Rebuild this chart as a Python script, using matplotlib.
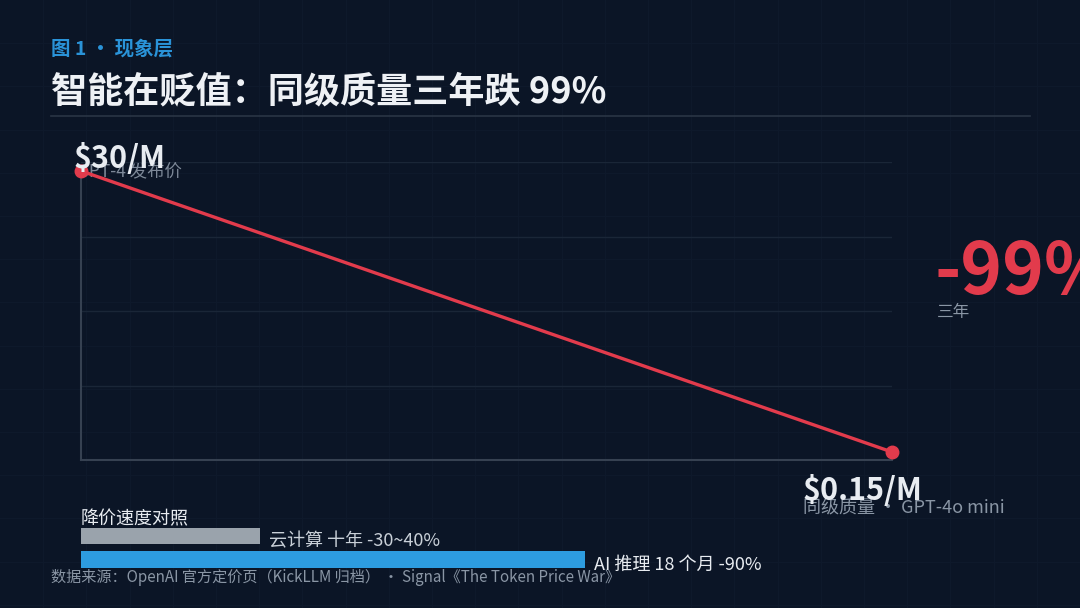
import matplotlib
matplotlib.use('Agg')
import matplotlib.pyplot as plt
import numpy as np

plt.rcParams['font.family'] = ['Noto Sans CJK SC', 'DejaVu Sans']

# data
point_x = [0, 1]
price = [30, 0.15]
price_labels = ['$30/M', '$0.15/M']
point_notes = ['GPT-4 发布价', '同级质量 · GPT-4o mini']
drop_text = '-99%'
drop_note = '三年'

bar_names = ['云计算 十年 -30~40%', 'AI 推理 18 个月 -90%']
bar_values = [32, 90]

BG = '#0b1526'
RED = '#e23b4c'
BLUE = '#2d9ce0'
GRAY_BAR = '#9aa3ac'
WHITE = '#e8ecf1'
MUTED = '#8a96a5'

W, H = 1080, 608
fig = plt.figure(figsize=(W / 100, H / 100), dpi=100, facecolor=BG)


def fx(x):
    return x / W


def fy(y):
    return 1 - y / H


# faint background grid
bg = fig.add_axes([0, 0, 1, 1], zorder=-5)
bg.set_facecolor(BG)
bg.set_xlim(0, W)
bg.set_ylim(H, 0)
step = W / 25
for gx in np.arange(step, W, step):
    bg.axvline(gx, color='#0e192b', lw=1)
for gy in np.arange(step, H, step):
    bg.axhline(gy, color='#0e192b', lw=1)
bg.axis('off')

# header
fig.text(fx(51), fy(49), '图 1 · 现象层', color='#2a93d8', fontsize=14,
         fontweight='bold', va='center', ha='left')
fig.text(fx(51), fy(92), '智能在贬值：同级质量三年跌 99%', color='#eef1f5', fontsize=26,
         fontweight='bold', va='center', ha='left')
bg.plot([51, 1030], [116, 116], color='#2a3545', lw=1.2)

# main line chart
ax = fig.add_axes([fx(81), fy(460), fx(892 - 81), (460 - 162) / H])
ax.set_facecolor('none')
ax.plot(point_x, price, color=RED, lw=2.4, solid_capstyle='round', zorder=3, clip_on=False)
ax.plot(point_x, price, 'o', color=RED, ms=9, zorder=4, clip_on=False)
ax.set_xlim(0, 1.0)
ax.set_ylim(-0.7, 30.95)
ax.set_yticks(np.linspace(-0.7, 30.95, 5))
ax.set_xticks([])
ax.tick_params(left=False, labelleft=False)
ax.grid(axis='y', color='#1a2637', lw=1)
for s in ['top', 'right']:
    ax.spines[s].set_visible(False)
for s in ['left', 'bottom']:
    ax.spines[s].set_color('#364151')
    ax.spines[s].set_linewidth(1.5)
ax.spines['left'].set_bounds(-0.7, price[0])

# point labels
ax.annotate(price_labels[0], (point_x[0], price[0]), xytext=(-7, 3), textcoords='offset pixels',
            color=WHITE, fontsize=22, fontweight='semibold', ha='left', va='baseline', zorder=5)
ax.annotate(point_notes[0], (point_x[0], price[0]), xytext=(-4, -1), textcoords='offset pixels',
            color=MUTED, fontsize=12.5, ha='left', va='center', alpha=0.9, zorder=2)
ax.annotate(price_labels[1], (point_x[1], price[1]), xytext=(-89, -48), textcoords='offset pixels',
            color=WHITE, fontsize=22, fontweight='semibold', ha='left', va='baseline', zorder=5)
ax.annotate(point_notes[1], (point_x[1], price[1]), xytext=(-89, -56), textcoords='offset pixels',
            color=MUTED, fontsize=13, ha='left', va='center', annotation_clip=False)

# big drop figure
fig.text(fx(934), fy(294), drop_text, color=RED, fontsize=51, fontweight='bold',
         ha='left', va='baseline')
fig.text(fx(937), fy(312), drop_note, color=MUTED, fontsize=12, ha='left', va='center')

# speed comparison bars
fig.text(fx(81), fy(519), '降价速度对照', color=WHITE, fontsize=13, ha='left', va='center')
bax = fig.add_axes([fx(81), fy(572), fx(560), 48 / H])
bax.set_facecolor('none')
ypos = [1, 0]
bax.barh(ypos, bar_values, height=0.7, color=[GRAY_BAR, BLUE])
bax.set_xlim(0, 100)
bax.set_ylim(-0.53, 1.51)
bax.axis('off')
for yv, val, name in zip(ypos, bar_values, bar_names):
    bax.annotate(name, (val, yv), xytext=(9, -5), textcoords='offset pixels',
                 color=WHITE if yv == 0 else '#c9d0d8', fontsize=13, ha='left', va='center',
                 annotation_clip=False)

# source
fig.text(fx(51), fy(578), '数据来源：OpenAI 官方定价页（KickLLM 归档） · Signal《The Token Price War》',
         color=MUTED, fontsize=10.9, ha='left', va='center')

fig.savefig('out.png', dpi=100, facecolor=BG)
